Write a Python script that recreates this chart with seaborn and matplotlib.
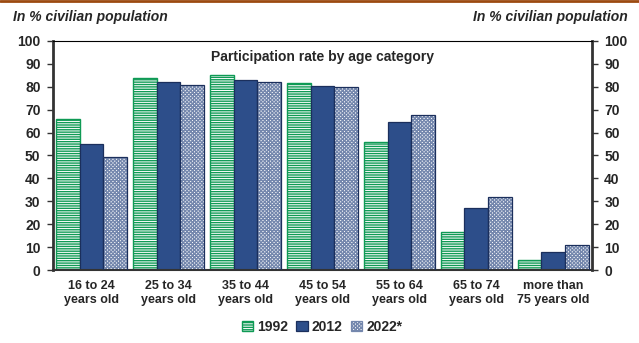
import matplotlib
matplotlib.use("Agg")
import matplotlib.pyplot as plt
from matplotlib.patches import Rectangle, Patch
import pandas as pd
import seaborn as sns

age_groups = ["16 to 24\nyears old", "25 to 34\nyears old", "35 to 44\nyears old",
              "45 to 54\nyears old", "55 to 64\nyears old", "65 to 74\nyears old",
              "more than\n75 years old"]
years = ["1992", "2012", "2022*"]
rate_1992 = [66, 84, 85, 81.5, 56, 16.5, 4.5]
rate_2012 = [55, 82, 83, 80.5, 64.5, 27, 7.7]
rate_2022 = [49.5, 81, 82, 80, 67.5, 32, 10.8]
y_ticks = list(range(0, 101, 10))

rows = []
for yr, vals in zip(years, [rate_1992, rate_2012, rate_2022]):
    for age, v in zip(age_groups, vals):
        rows.append({"age": age, "year": yr, "rate": v})
df = pd.DataFrame(rows)

sns.set_style("white")
plt.rcParams["font.family"] = ["Liberation Sans", "DejaVu Sans"]
plt.rcParams["hatch.linewidth"] = 1.0

GREEN = "#0f9a55"
NAVY = "#2d4e8a"
NAVY_EDGE = "#1b2f5c"
CHECK = "#7487ad"

fig = plt.figure(figsize=(6.39, 3.43), dpi=100)
ax = fig.add_axes([0.083, 0.2128, 0.843, 0.6677])

sns.barplot(data=df, x="age", y="rate", hue="year", hue_order=years,
            palette=["white", NAVY, "white"], width=0.92, gap=0,
            saturation=1, legend=False, ax=ax)

# style each series
for bar in ax.containers[0]:
    bar.set_facecolor("white")
    bar.set_edgecolor(GREEN)
    bar.set_hatch("-------")
    bar.set_linewidth(1.0)
for bar in ax.containers[1]:
    bar.set_edgecolor(NAVY_EDGE)
    bar.set_linewidth(0.9)
for bar in ax.containers[2]:
    bar.set_facecolor("white")
    bar.set_edgecolor(CHECK)
    bar.set_hatch("xxxxxxxxx")
    bar.set_linewidth(0)
    ax.add_patch(Rectangle(bar.get_xy(), bar.get_width(), bar.get_height(),
                           fill=False, edgecolor=NAVY_EDGE, linewidth=0.9, zorder=3))

ax.set_ylim(0, 100)
ax.set_xlim(-0.5, len(age_groups) - 0.5)
ax.set_yticks(y_ticks)
ax.set_xlabel("")
ax.set_ylabel("")

ax.tick_params(axis="y", which="both", left=True, right=True, labelleft=True,
               labelright=True, direction="out", length=4, width=1,
               color="#333333", labelsize=10, pad=5)
ax.tick_params(axis="x", length=0, labelsize=9, pad=7)
for lbl in ax.get_yticklabels():
    lbl.set_fontweight("bold")
for lbl in ax.get_xticklabels():
    lbl.set_fontweight("bold")
    lbl.set_linespacing(1.2)

for side in ["left", "right"]:
    ax.spines[side].set_visible(True)
    ax.spines[side].set_linewidth(2)
    ax.spines[side].set_color("#333333")
ax.spines["top"].set_visible(True)
ax.spines["top"].set_linewidth(0.8)
ax.spines["top"].set_color("black")
ax.spines["bottom"].set_visible(True)
ax.spines["bottom"].set_linewidth(1.5)
ax.spines["bottom"].set_color("#333333")

ax.text(0.5, 0.96, "Participation rate by age category", transform=ax.transAxes,
        ha="center", va="top", fontsize=10, fontweight="bold")

fig.text(13 / 639, 1 - 17 / 343, "In % civilian population", ha="left", va="center",
         fontsize=10, fontweight="bold", fontstyle="italic")
fig.text(628 / 639, 1 - 17 / 343, "In % civilian population", ha="right", va="center",
         fontsize=10, fontweight="bold", fontstyle="italic")

# brown rule along the top edge
fig.add_artist(plt.Line2D([0, 1], [1 - 1 / 343, 1 - 1 / 343], transform=fig.transFigure,
                          color="#9c4a10", linewidth=2))

handles = [
    Patch(facecolor="white", edgecolor=GREEN, hatch="-------", linewidth=1.0),
    Patch(facecolor=NAVY, edgecolor=NAVY_EDGE, linewidth=0.9),
    Patch(facecolor="white", edgecolor=CHECK, hatch="xxxxxxxxx", linewidth=0.9),
]
fig.legend(handles, years, loc="center", bbox_to_anchor=(322 / 639, 1 - 327 / 343),
           ncol=3, frameon=False, handlelength=0.8, handleheight=0.8,
           handletextpad=0.3, columnspacing=0.6,
           prop={"weight": "bold", "size": 10})

fig.savefig("out.png", dpi=100)
